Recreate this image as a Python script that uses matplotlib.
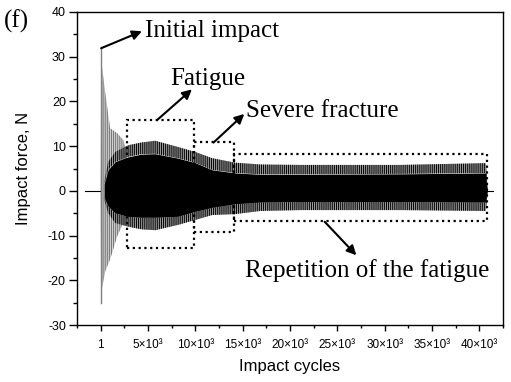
import numpy as np
import matplotlib
matplotlib.use('Agg')
import matplotlib.pyplot as plt
from matplotlib.patches import Rectangle
from matplotlib.ticker import MultipleLocator

plt.rcParams['font.family'] = ['Liberation Sans', 'DejaVu Sans']
plt.rcParams['axes.unicode_minus'] = False
plt.rcParams['hatch.linewidth'] = 0.7

# quiet baseline before and after the test
pre_x = [-1650, 0]
post_x = [40860, 41400]

# gray ringing of the first impact (envelope)
ring_x = [0, 60, 130, 480, 1000, 1740, 2380, 2700]
ring_hi = [0, 32.2, 28, 22, 14, 12.9, 11.4, 9]
ring_lo = [0, -25, -22, -18, -15.3, -10.2, -7.2, -7]

# envelope of the repeated impacts: spike tips (outer) and dense core (inner)
env_x = [370, 790, 1530, 2900, 4280, 5760, 8190, 9990, 11790, 14220, 16860, 21090, 31660, 40700, 40860]
outer_hi = [2, 6.5, 8.7, 10.2, 10.8, 11.2, 9.8, 8.7, 7.3, 6.3, 5.9, 5.8, 5.8, 6.2, 0]
inner_hi = [1.5, 4.7, 6.5, 7.6, 8.2, 8.3, 7.3, 6.3, 4.7, 4.0, 3.7, 3.7, 3.8, 4.0, 0]
outer_lo = [-2, -5, -7.2, -8, -8.6, -8.8, -7.6, -6.5, -5.4, -5.2, -4.5, -4.3, -4.3, -4.5, 0]
inner_lo = [-1.5, -3.5, -5, -5.8, -6, -6, -5.8, -4.7, -3.8, -3.0, -2.6, -2.5, -2.5, -2.6, 0]

# stage boxes (x0, x1, y0, y1)
boxes = [(2770, 9810, -12.8, 15.8), (9810, 14040, -9.2, 11.0), (14040, 40820, -6.7, 8.2)]

xticks = [0, 5000, 10000, 15000, 20000, 25000, 30000, 35000, 40000]
xticklabels = ['1', '5×10³', '10×10³', '15×10³', '20×10³', '25×10³', '30×10³', '35×10³', '40×10³']

fig = plt.figure(figsize=(5.11, 3.82), dpi=100)
ax = fig.add_axes([0.1507, 0.1492, 0.8336, 0.8194])

ax.plot(pre_x, [0, 0], color='black', lw=0.8)
ax.plot(post_x, [0, 0], color='black', lw=0.8)
ax.fill_between(ring_x, ring_lo, ring_hi, facecolor='0.82', edgecolor='0.45',
                hatch='||||||||', lw=0)
ax.plot([60, 60], [-25, 32.2], color='0.5', lw=1.0)

ax.fill_between(env_x, inner_lo, inner_hi, color='black', lw=0)
ax.fill_between(env_x, inner_hi, outer_hi, facecolor='0.6', edgecolor='black',
                hatch='||||||||', lw=0)
ax.fill_between(env_x, outer_lo, inner_lo, facecolor='0.6', edgecolor='black',
                hatch='||||||||', lw=0)

for x0, x1, y0, y1 in boxes:
    ax.add_patch(Rectangle((x0, y0), x1 - x0, y1 - y0, fill=False, ec='black',
                           lw=1.6, ls=(0, (1, 1.6)), zorder=3))

serif = dict(family=['Liberation Serif', 'DejaVu Serif'], fontsize=18)
arrow = dict(arrowstyle='-|>', color='black', lw=1.5, mutation_scale=14, shrinkA=0, shrinkB=0)
ax.annotate('', xy=(4355, 35.7), xytext=(53, 31.9), arrowprops=arrow)
ax.annotate('', xy=(9640, 22.7), xytext=(5940, 15.8), arrowprops=arrow)
ax.annotate('', xy=(15170, 17.2), xytext=(11920, 10.8), arrowprops=arrow)
ax.annotate('', xy=(27010, -14.4), xytext=(23660, -6.9), arrowprops=arrow)
ax.text(4700, 34.3, 'Initial impact', va='baseline', **serif)
ax.text(7350, 23.7, 'Fatigue', va='baseline', **serif)
ax.text(15350, 16.6, 'Severe fracture', va='baseline', **serif)
ax.text(15270, -19.2, 'Repetition of the fatigue', va='baseline', **serif)
fig.text(0.008, 0.975, '(f)', va='top', **serif)

ax.set_xlim(-2500, 42500)
ax.set_ylim(-30, 40)
ax.set_xticks(xticks)
ax.set_xticklabels(xticklabels)
ax.xaxis.set_minor_locator(MultipleLocator(2500))
ax.yaxis.set_major_locator(MultipleLocator(10))
ax.yaxis.set_minor_locator(MultipleLocator(5))
ax.tick_params(axis='x', which='major', length=4, width=1, labelsize=8.5, pad=6)
ax.tick_params(axis='x', which='minor', length=2.5, width=1)
ax.tick_params(axis='y', which='major', length=6, width=1, labelsize=9, pad=2)
ax.tick_params(axis='y', which='minor', length=3, width=1)
for s in ax.spines.values():
    s.set_linewidth(1)
ax.set_xlabel('Impact cycles', fontsize=12, labelpad=6)
ax.set_ylabel('Impact force, N', fontsize=12, labelpad=12)

fig.savefig('out.png', dpi=100)
